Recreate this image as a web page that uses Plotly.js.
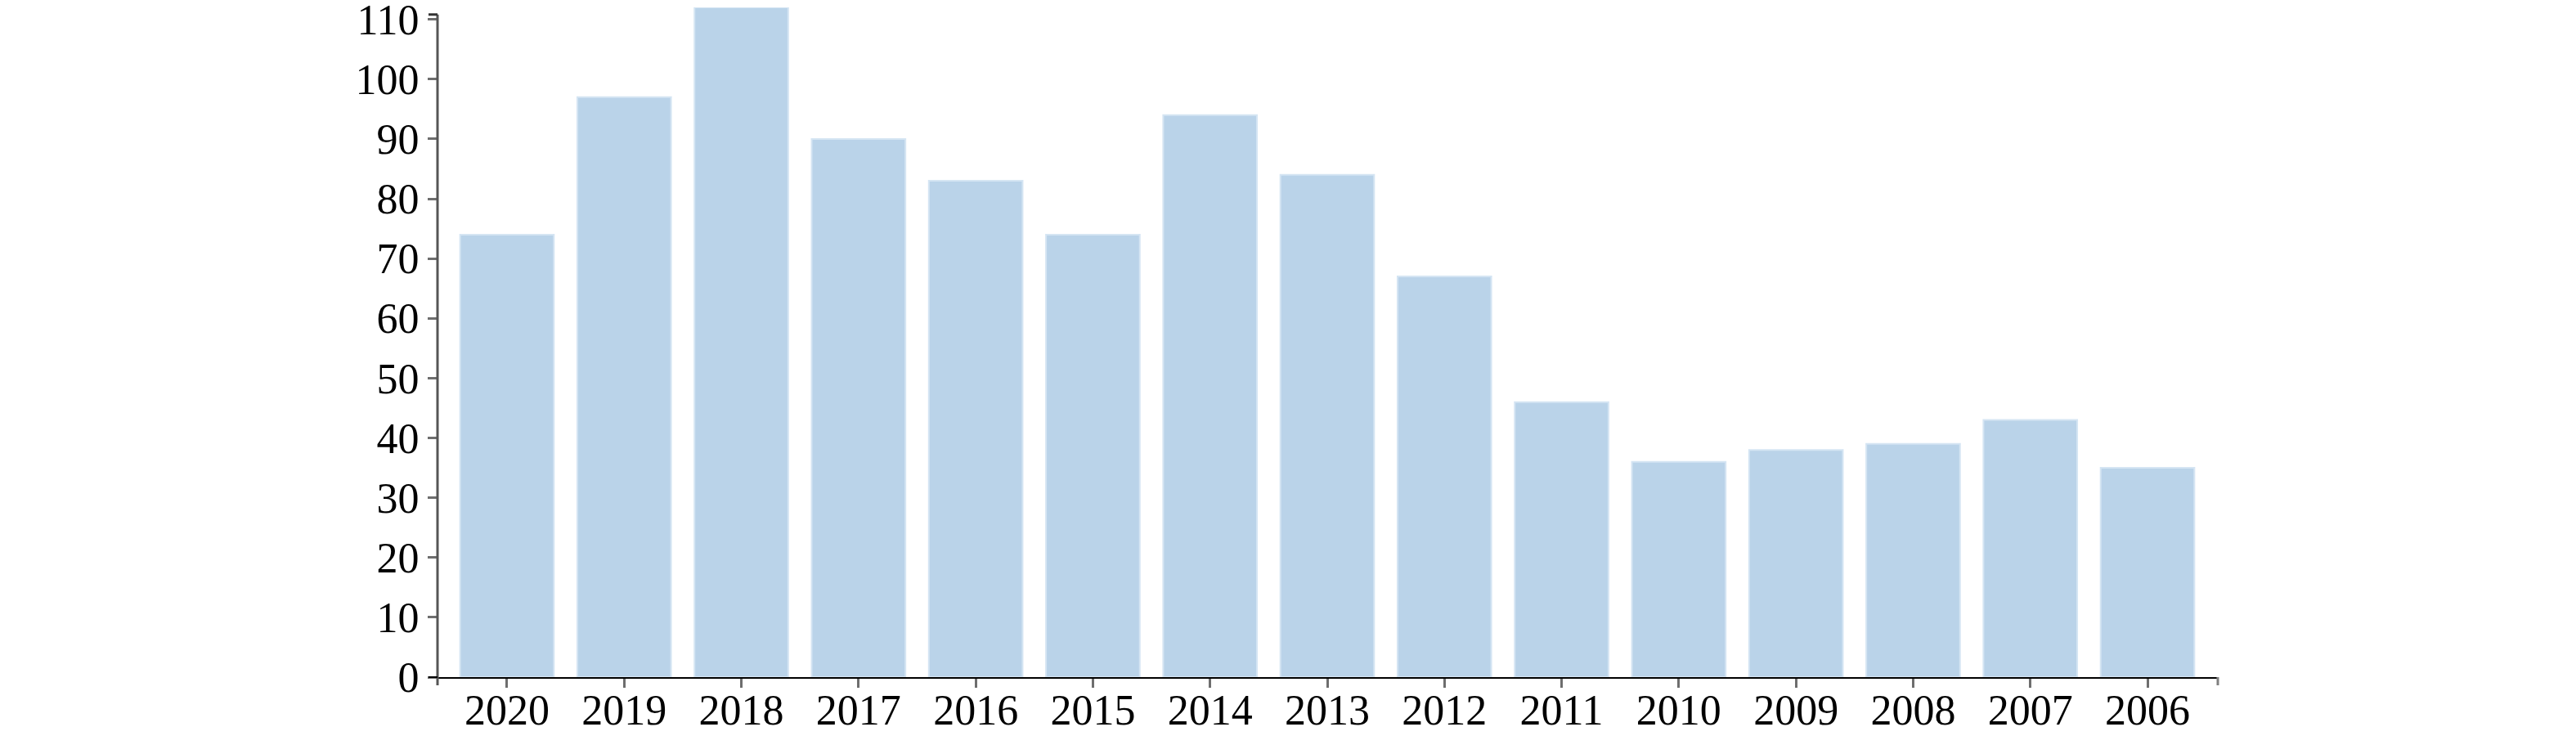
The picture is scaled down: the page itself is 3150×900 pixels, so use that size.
<!DOCTYPE html>
<html>
<head>
<meta charset="utf-8">
<script src="https://cdn.plot.ly/plotly-3.0.1.min.js"></script>
<style>html,body{margin:0;padding:0;background:#fff;}</style>
</head>
<body>
<div id="chart" style="width:3150px;height:900px;"></div>
<script>
const years = ['2020','2019','2018','2017','2016','2015','2014','2013','2012','2011','2010','2009','2008','2007','2006'];
const values = [74, 97, 112, 90, 83, 74, 94, 84, 67, 46, 36, 38, 39, 43, 35];
const yTicks = [0,10,20,30,40,50,60,70,80,90,100,110];
const yDomainTop = 110.8;

const trace = {
  type: 'bar',
  x: years,
  y: values,
  marker: {color: '#bad3e9', line: {color: '#d5e5f3', width: 2}},
  hoverinfo: 'x+y'
};

const layout = {
  width: 3150,
  height: 900,
  margin: {l: 535, r: 438, t: 9, b: 72, pad: 0},
  paper_bgcolor: '#fff',
  plot_bgcolor: '#fff',
  bargap: 0.2,
  showlegend: false,
  font: {family: '"Liberation Serif", "Times New Roman", serif', size: 52, color: '#000'},
  xaxis: {
    type: 'category',
    range: [-0.593, 14.6],
    showline: true, linecolor: '#000', linewidth: 2,
    ticks: 'outside', ticklen: 11, tickwidth: 3, tickcolor: '#6e6e6e',
    ticklabelstandoff: -17,
    showgrid: false, zeroline: false,
    tickfont: {size: 52}
  },
  yaxis: {
    range: [0, 112],
    tickvals: yTicks,
    showline: false,
    ticks: 'outside', ticklen: 11, tickwidth: 3, tickcolor: '#6e6e6e',
    ticklabeloverflow: 'allow',
    showgrid: false, zeroline: false,
    tickfont: {size: 52}
  },
  shapes: [
    // y-axis domain line up to the domain top, with outer end caps
    {type: 'line', xref: 'paper', yref: 'y', x0: 0, x1: 0, y0: 0, y1: yDomainTop, line: {color: '#555', width: 3}},
    {type: 'line', xref: 'paper', yref: 'y', xsizemode: 'pixel', xanchor: 0, x0: -11, x1: 0, y0: yDomainTop, y1: yDomainTop, line: {color: '#333', width: 3}},
    {type: 'line', xref: 'paper', yref: 'paper', ysizemode: 'pixel', yanchor: 0, x0: 0, x1: 0, y0: -10, y1: 0, line: {color: '#555', width: 3}},
    {type: 'line', xref: 'paper', yref: 'paper', xsizemode: 'pixel', xanchor: 0, x0: -11, x1: 0, y0: 0, y1: 0, line: {color: '#000', width: 2}},
    {type: 'line', xref: 'paper', yref: 'paper', ysizemode: 'pixel', yanchor: 0, x0: 1, x1: 1, y0: -10, y1: 0, line: {color: '#808080', width: 3}}
  ]
};

Plotly.newPlot('chart', [trace], layout, {staticPlot: true, displayModeBar: false});
</script>
</body>
</html>
